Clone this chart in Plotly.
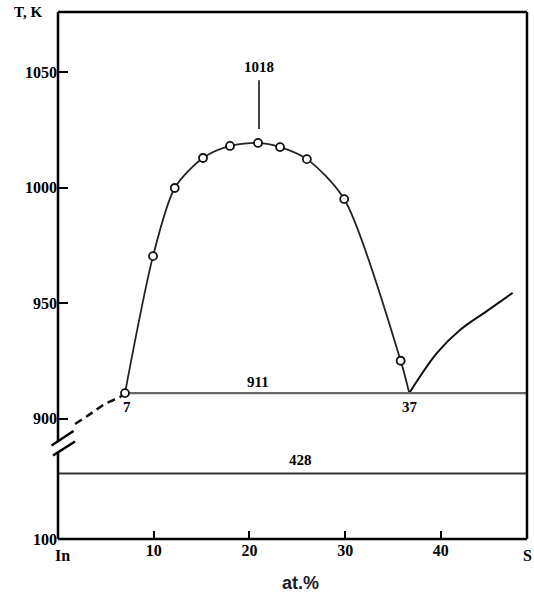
import plotly.graph_objects as go

# ---- data ----
liq_x = [7.0, 9.93, 12.2, 15.15, 17.97, 20.9, 23.2, 26.0, 29.9, 35.8, 36.7]
liq_T = [911, 970.3, 999.8, 1012.8, 1018, 1019.3, 1017.5, 1012.3, 995, 925, 911]
pts_x = [7.0, 9.93, 12.2, 15.15, 17.97, 20.9, 23.2, 26.0, 29.9, 35.8]
pts_T = [911, 970.3, 999.8, 1012.8, 1018, 1019.3, 1017.5, 1012.3, 995, 925]
right_x = [36.7, 39.6, 42.0, 44.8, 47.5]
right_T = [911, 928.4, 938.3, 946.5, 954.4]
dash_x = [1.78, 3.34, 4.91, 6.48, 7.0]
dash_T = [897.6, 901.9, 906.3, 909.3, 911]
eut_T = 911
eut_x = [7.0, 49]
low_T = 428
low_x = [0, 49]
max_x = [21.0, 21.0]
max_T = [1025.3, 1046.5]

x_ticks = [10, 20, 30, 40]
x_ticktext = ["10", "20", "30", "40"]
end_labels = ["In", "S"]
end_x = [0.5, 49]
y_ticks = [900, 950, 1000, 1050]
y2_ticks = [100]

SERIF = "Liberation Serif"
tf = dict(family=SERIF, size=16, color="black", weight="bold")

fig = go.Figure()
fig.add_trace(go.Scatter(x=liq_x, y=liq_T, mode="lines", line=dict(color="#222", width=1.8, shape="spline", smoothing=0.8), yaxis="y", hoverinfo="skip"))
fig.add_trace(go.Scatter(x=right_x, y=right_T, mode="lines", line=dict(color="#111", width=2, shape="spline"), yaxis="y"))
fig.add_trace(go.Scatter(x=dash_x, y=dash_T, mode="lines", line=dict(color="#111", width=2.5, dash="8px,5px", shape="spline"), yaxis="y"))
fig.add_trace(go.Scatter(x=eut_x, y=[eut_T] * 2, mode="lines", line=dict(color="#666", width=2.2), yaxis="y"))
fig.add_trace(go.Scatter(x=max_x, y=max_T, mode="lines", line=dict(color="#444", width=2), yaxis="y"))
fig.add_trace(go.Scatter(x=low_x, y=[low_T] * 2, mode="lines", line=dict(color="#333", width=2.2), yaxis="y2"))
fig.add_trace(go.Scatter(x=pts_x, y=pts_T, mode="markers", marker=dict(symbol="circle", size=8, color="white", line=dict(color="#111", width=1.8)), yaxis="y"))

lf = dict(family=SERIF, size=15, color="black", weight="bold")
ann = [
    dict(x=21.0, y=1052, text="1018", yref="y"),
    dict(x=20.9, y=916, text="911", yref="y"),
    dict(x=7.2, y=905, text="7", yref="y"),
    dict(x=36.8, y=905, text="37", yref="y"),
    dict(x=25.3, y=495, text="428", yref="y2"),
]
annotations = [dict(xref="x", showarrow=False, font=lf, **a) for a in ann]
for lab, xv in zip(end_labels, end_x):
    annotations.append(dict(xref="x", yref="paper", x=xv, y=-0.031, text=lab, showarrow=False, yanchor="middle", font=tf))
annotations.append(dict(xref="paper", yref="paper", x=-0.064, y=1.0, text="T, K", showarrow=False, xanchor="center", yanchor="middle", font=lf))
annotations.append(dict(xref="paper", yref="paper", x=0.516, y=-0.083, text="at.%", showarrow=False, xanchor="center", yanchor="middle",
                        font=dict(family="Liberation Sans", size=18, color="#1a1a2a", weight="bold")))

L, R, T, B = 58, 7, 12, 56
W, H = 534, 595
ph = H - T - B
def py(p):
    return (H - B - p) / ph
def px(p):
    return (p - L) / (W - L - R)

split = py(443)
line = dict(color="black", width=2.5)
shapes = [
    dict(type="line", xref="paper", yref="paper", x0=0, x1=1, y0=1, y1=1, line=line),
    dict(type="line", xref="paper", yref="paper", x0=1, x1=1, y0=0, y1=1, line=line),
    dict(type="line", xref="paper", yref="paper", x0=0, x1=1, y0=0, y1=0, line=line),
    dict(type="line", xref="paper", yref="paper", x0=0, x1=0, y0=py(441), y1=1, line=line),
    dict(type="line", xref="paper", yref="paper", x0=0, x1=0, y0=0, y1=py(453), line=line),
    dict(type="line", xref="paper", yref="paper", x0=px(51.5), x1=px(73.5), y0=py(445.5), y1=py(431), line=dict(color="black", width=2.5)),
    dict(type="line", xref="paper", yref="paper", x0=px(53), x1=px(75), y0=py(455.5), y1=py(441.5), line=dict(color="black", width=2.5)),
]

fig.update_layout(
    width=W, height=H, margin=dict(l=L, r=R, t=T, b=B),
    paper_bgcolor="white", plot_bgcolor="white", showlegend=False,
    xaxis=dict(range=[0, 49], tickvals=x_ticks, ticktext=x_ticktext, ticks="inside", ticklen=8, tickwidth=2, tickcolor="black",
               showgrid=False, zeroline=False, showline=False, tickfont=tf, anchor="y2"),
    yaxis=dict(domain=[split, 1], range=[889.4, 1076], tickvals=y_ticks, ticks="inside", ticklen=10, tickwidth=2, tickcolor="black",
               showgrid=False, zeroline=False, showline=False, tickfont=tf, anchor="x"),
    yaxis2=dict(domain=[0, split], range=[100, 580.8], tickvals=y2_ticks, ticks="inside", ticklen=10, tickwidth=2, tickcolor="black",
                showgrid=False, zeroline=False, showline=False, tickfont=tf, anchor="x"),
    annotations=annotations, shapes=shapes,
)
fig.write_html("out.html", config={"displayModeBar": False},
               post_script="document.body.style.margin='0';document.body.style.overflow='hidden';")
